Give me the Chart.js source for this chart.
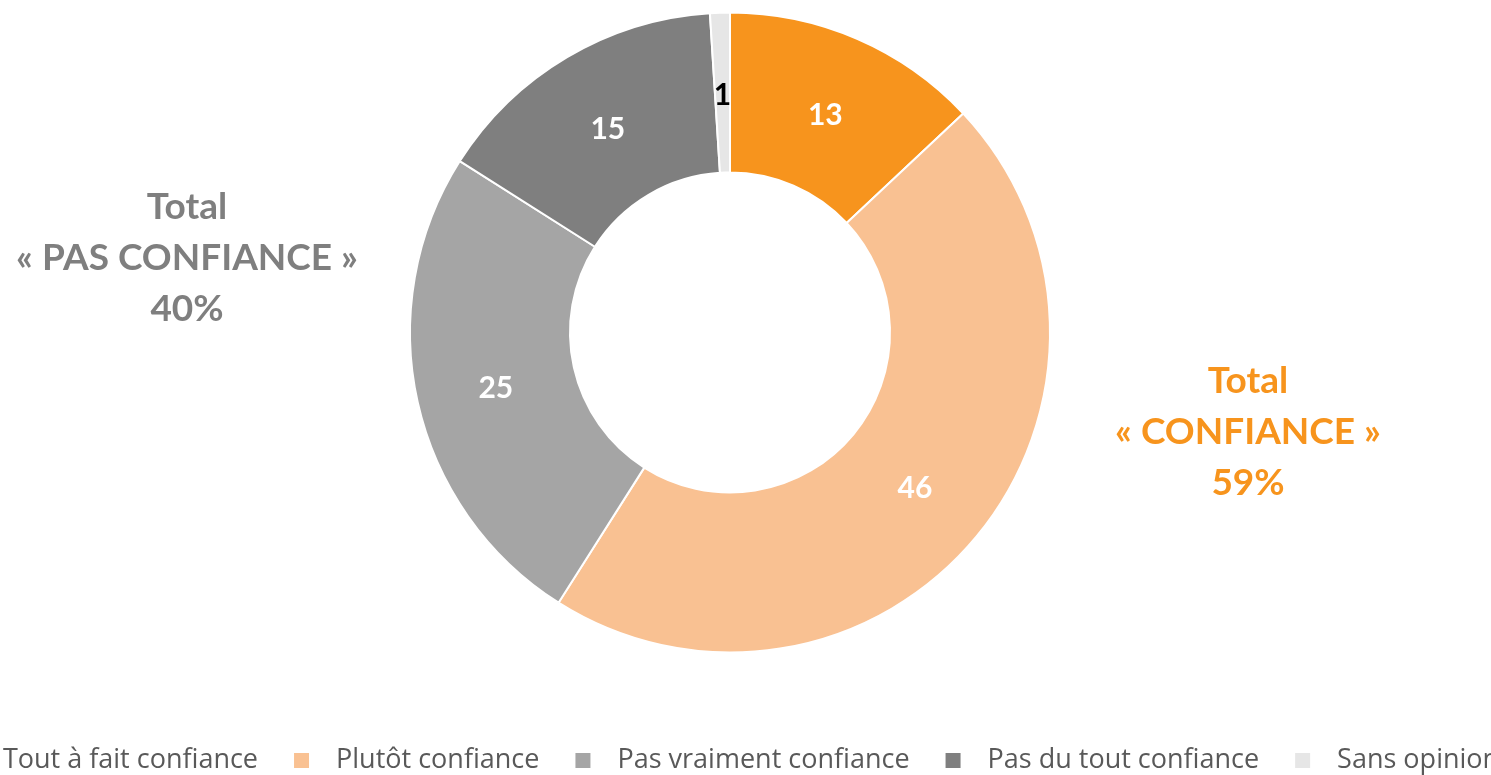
<!DOCTYPE html>
<html lang="fr">
<head>
<meta charset="utf-8">
<title>Confiance</title>
<script src="https://cdn.jsdelivr.net/npm/chart.js@4/dist/chart.umd.min.js"></script>
<style>
  html, body { margin: 0; padding: 0; background: #fff; overflow: hidden; }
  body { width: 1491px; height: 775px; position: relative; }
  #cadre { position: absolute; left: -90px; top: -46px; width: 1640px; height: 830px; }
</style>
</head>
<body>
<div id="cadre"><canvas id="graficoConfiance"></canvas></div>
<script>
// ========== DONNEES ==========
const categories = ["Tout à fait confiance", "Plutôt confiance", "Pas vraiment confiance", "Pas du tout confiance", "Sans opinion"];
const valeurs = [13, 46, 25, 15, 1];
const totaux = [
  ["Total", "« PAS CONFIANCE »", "40%"],
  ["Total", "« CONFIANCE »", "59%"]
];

// ========== STYLES ==========
const couleurs = ["#F7941D", "#F9C192", "#A5A5A5", "#7F7F7F", "#E6E6E6"];
const couleursTexte = ["#FFFFFF", "#FFFFFF", "#FFFFFF", "#FFFFFF", "#000000"];
const policeTitres = '"Lato", "Open Sans", sans-serif';
const policeLegende = '"Open Sans", "Lato", sans-serif';

// ========== ETIQUETTES DANS LES PARTS ==========
const etiquettesParts = {
  id: 'etiquettesParts',
  afterDatasetsDraw(chart) {
    const ctx = chart.ctx;
    const meta = chart.getDatasetMeta(0);
    ctx.save();
    ctx.font = `700 30px ${policeTitres}`;
    ctx.textAlign = 'center';
    ctx.textBaseline = 'middle';
    meta.data.forEach((arc, i) => {
      const pos = arc.tooltipPosition();
      ctx.fillStyle = couleursTexte[i];
      ctx.fillText(String(valeurs[i]), pos.x, pos.y + 3);
    });
    ctx.restore();
  }
};

// ========== TOTAUX ==========
const blocsTotaux = {
  id: 'blocsTotaux',
  afterDraw(chart) {
    const ctx = chart.ctx;
    const arc = chart.getDatasetMeta(0).data[0];
    if (!arc) return;
    const cx = arc.x, cy = arc.y;
    const positions = [
      { dx: -543, dy: -125, color: '#7F7F7F' },
      { dx: 518, dy: 49, color: '#F7941D' }
    ];
    ctx.save();
    ctx.font = `700 37px ${policeTitres}`;
    ctx.textAlign = 'center';
    ctx.textBaseline = 'middle';
    totaux.forEach((lignes, k) => {
      const p = positions[k];
      ctx.fillStyle = p.color;
      lignes.forEach((txt, j) => {
        ctx.fillText(txt, cx + p.dx, cy + p.dy + j * 51);
      });
    });
    ctx.restore();
  }
};

// ========== GRAPHIQUE ==========
new Chart(document.getElementById('graficoConfiance'), {
  type: 'doughnut',
  data: {
    labels: categories,
    datasets: [{
      data: valeurs,
      backgroundColor: couleurs,
      borderColor: '#FFFFFF',
      borderWidth: 2,
      radius: 320,
      cutout: '50%'
    }]
  },
  options: {
    responsive: true,
    maintainAspectRatio: false,
    animation: false,
    plugins: {
      tooltip: { enabled: false },
      legend: {
        position: 'bottom',
        labels: {
          boxWidth: 15,
          boxHeight: 15,
          padding: 36,
          color: '#595959',
          font: { family: policeLegende, size: 27 },
          generateLabels(chart) {
            return chart.data.labels.map((label, i) => ({
              text: '\u2002' + label,
              fillStyle: couleurs[i],
              strokeStyle: couleurs[i],
              lineWidth: 0,
              fontColor: '#595959',
              index: i,
              hidden: false
            }));
          }
        }
      }
    }
  },
  plugins: [etiquettesParts, blocsTotaux]
});
</script>
</body>
</html>
